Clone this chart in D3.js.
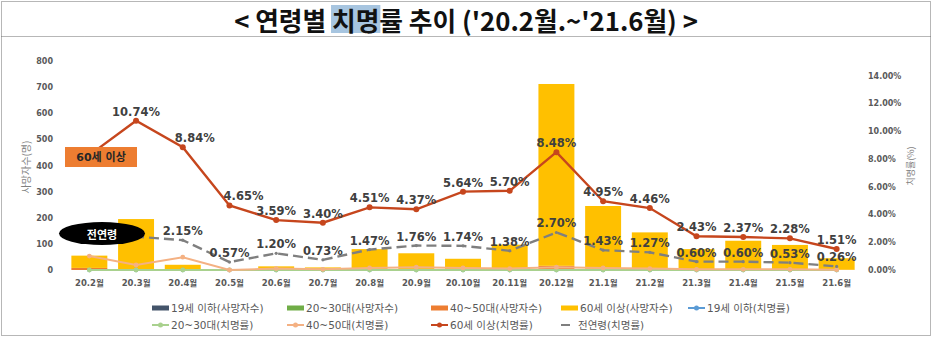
<!DOCTYPE html>
<html>
<head>
<meta charset="utf-8">
<script src="https://cdn.jsdelivr.net/npm/d3@7"></script>
<style>
  body { margin: 0; background: #fff; }
  svg { display: block; }
</style>
</head>
<body>
<svg id="chart" width="934" height="340"></svg>
<script>
// Monthly categories (Feb 2020 – Jun 2021)
const months = ["20.2","20.3","20.4","20.5","20.6","20.7","20.8","20.9","20.10","20.11","20.12","21.1","21.2","21.3","21.4","21.5","21.6"];

// Deaths by age group (people), stacked bars
const deaths19   = [0,0,0,0,0,0,0,0,0,0,0,0,0,0,0,0,0];
const deaths2030 = [0,0,0,0,0,0,0,0,0,0,2,1,0,0,0,0,0];
const deaths4050 = [8,3,1,0,0,0,1,1,1,2,14,5,2,1,1,1,1];
const deaths60   = [47,192,19,2,14,10,79,63,42,95,696,239,142,79,111,95,44];

// Case fatality rate by age group (%)
const rate19   = [0,0,0,0,0,0,0,0,0,0,0,0,0,0,0,0,0];
const rate2030 = [0,0,0,0,0,0,0,0,0,0,0,0,0,0,0,0,0];
const rate4050 = [1.0,0.36,0.92,0,0.1,0.05,0.15,0.2,0.15,0.1,0.2,0.15,0.1,0.05,0.05,0.05,0.02];
const rate60   = [8.27,10.74,8.84,4.65,3.59,3.40,4.51,4.37,5.64,5.70,8.48,4.95,4.46,2.43,2.37,2.28,1.51];
const rateAll  = [2.0,2.4,2.15,0.57,1.20,0.73,1.47,1.76,1.74,1.38,2.70,1.43,1.27,0.60,0.60,0.53,0.26];

// Axis ticks
const deathTicks = [0,100,200,300,400,500,600,700,800];
const rateTicks  = [0,2,4,6,8,10,12,14];

// Series names
const barNames  = ["19세 이하(사망자수)","20~30대(사망자수)","40~50대(사망자수)","60세 이상(사망자수)"];
const lineNames = ["19세 이하(치명률)","20~30대(치명률)","40~50대(치명률)","60세 이상(치명률)","전연령(치명률)"];

const barColors  = ["#44546a","#70ad47","#ed7d31","#ffc000"];
const lineColors = ["#5b9bd5","#a9d18e","#f4b183","#c6461d","#7f7f7f"];

const svg = d3.select("#chart");
const W = 934, H = 340;
const latin = "'DejaVu Sans','Noto Sans CJK KR',sans-serif";
const kr = "'Noto Sans CJK KR','DejaVu Sans',sans-serif";

svg.append("rect").attr("width", W).attr("height", H).attr("fill", "#fff");

// dotted frame and title separator
const frame = svg.append("g").attr("fill", "none").attr("stroke", "#6f6f6f")
  .attr("stroke-width", 1).attr("stroke-dasharray", "1,1");
frame.append("rect").attr("x", 1.5).attr("y", 1.5).attr("width", 929).attr("height", 334);
frame.append("line").attr("x1", 1.5).attr("x2", 930.5).attr("y1", 36.5).attr("y2", 36.5);

// Title with highlighted word
const titleG = svg.append("g");
const hl = titleG.append("rect").attr("fill", "#a7c5e0");
const title = titleG.append("text")
  .attr("x", 466).attr("y", 19)
  .attr("text-anchor", "middle").attr("dominant-baseline", "central")
  .attr("font-family", kr).attr("font-weight", 700).attr("font-size", 25)
  .attr("fill", "#111");
const titleParts = ["< 연령별 ", "치명", "률 추이 ('20.2월.~'21.6월) >"];
titleParts.forEach(t => title.append("tspan").text(t));
{
  const node = title.node();
  const w = node.getComputedTextLength();
  title.attr("font-size", 25 * 464 / w);
  const s = titleParts[0].length, e = s + titleParts[1].length - 1;
  const x0 = node.getStartPositionOfChar(s).x;
  const x1 = node.getEndPositionOfChar(e).x;
  hl.attr("x", x0 - 1).attr("y", 5).attr("width", x1 - x0 + 2).attr("height", 28);
}

// Scales
const x = d3.scaleBand().domain(months).range([66, 860]).paddingInner(0.23).paddingOuter(0.115);
const xc = d => x(d) + x.bandwidth() / 2;
const yL = d3.scaleLinear().domain([0, 800]).range([270, 61]);
const yR = d3.scaleLinear().domain([0, 14]).range([270, 75.5]);

// Axes
const axL = svg.append("g").attr("transform", "translate(56,0)")
  .call(d3.axisLeft(yL).tickValues(deathTicks).tickSize(0).tickPadding(3));
const axR = svg.append("g").attr("transform", "translate(864,0)")
  .call(d3.axisRight(yR).tickValues(rateTicks).tickSize(0).tickPadding(4)
    .tickFormat(d => d.toFixed(2) + "%"));
const axX = svg.append("g").attr("transform", "translate(0,278)")
  .call(d3.axisBottom(x).tickSize(0).tickPadding(2).tickFormat(d => d + "월"));
[axL, axR, axX].forEach(a => {
  a.select(".domain").remove();
  a.selectAll("text").attr("font-family", latin).attr("font-weight", 700)
    .attr("font-size", 8).attr("fill", "#595959");
});
axX.selectAll("text").attr("font-size", 8.5);

// Axis titles
svg.append("text").attr("transform", "translate(30,167) rotate(-90)")
  .attr("text-anchor", "middle").attr("font-family", kr).attr("font-size", 10)
  .attr("fill", "#7f7f7f").text("사망자수(명)");
svg.append("text").attr("transform", "translate(914,166) rotate(-90)")
  .attr("text-anchor", "middle").attr("font-family", kr).attr("font-size", 9)
  .attr("fill", "#7f7f7f").text("치명률(%)");

// Stacked bars
const barSeries = [deaths19, deaths2030, deaths4050, deaths60];
const rows = months.map((m, i) => {
  const r = { month: m };
  barSeries.forEach((s, k) => r["s" + k] = s[i]);
  return r;
});
const stack = d3.stack().keys(["s0","s1","s2","s3"])(rows);
svg.append("g").selectAll("g").data(stack).join("g")
  .attr("fill", (d, k) => barColors[k])
  .selectAll("rect").data(d => d).join("rect")
  .attr("x", d => x(d.data.month))
  .attr("width", x.bandwidth())
  .attr("y", d => yL(d[1]))
  .attr("height", d => yL(d[0]) - yL(d[1]));

// Rate lines
const lineGen = d3.line().x((d, i) => xc(months[i])).y(d => yR(d));
const rateSeries = [rate19, rate2030, rate4050, rate60, rateAll];
const lineStyle = [
  { w: 1.8, dash: null, r: 2.2 },
  { w: 1.8, dash: null, r: 2.4 },
  { w: 2.0, dash: null, r: 2.4 },
  { w: 2.4, dash: null, r: 3.0 },
  { w: 2.4, dash: "10,5", r: 1.6 }
];
rateSeries.forEach((s, k) => {
  const g = svg.append("g");
  g.append("path").datum(s).attr("d", lineGen).attr("fill", "none")
    .attr("stroke", lineColors[k]).attr("stroke-width", lineStyle[k].w)
    .attr("stroke-dasharray", lineStyle[k].dash);
  g.selectAll("circle").data(s).join("circle")
    .attr("cx", (d, i) => xc(months[i])).attr("cy", d => yR(d))
    .attr("r", lineStyle[k].r).attr("fill", lineColors[k]);
});

// Value labels (the first points sit under the callouts); a couple are
// shifted right so they clear the falling line
const labelShift = { "20.4": 12, "20.5": 14 };
function labels(series, from, shift) {
  svg.append("g").selectAll("text").data(series.map((v, i) => ({ v, i })).filter(d => d.i >= from))
    .join("text")
    .attr("x", d => xc(months[d.i]) + ((shift && shift[months[d.i]]) || 0))
    .attr("y", d => yR(d.v) - 5)
    .attr("text-anchor", "middle").attr("font-family", latin).attr("font-weight", 700)
    .attr("font-size", 11.5).attr("fill", "#404040")
    .text(d => d.v.toFixed(2) + "%");
}
labels(rate60, 1, labelShift);
labels(rateAll, 2, null);

// Callouts
const c1 = svg.append("g");
c1.append("rect").attr("x", 65).attr("y", 147).attr("width", 72).attr("height", 20).attr("fill", "#ed7d31");
c1.append("text").attr("x", 101).attr("y", 157).attr("text-anchor", "middle")
  .attr("dominant-baseline", "central").attr("font-family", latin).attr("font-weight", 700)
  .attr("font-size", 11).attr("fill", "#262626").text("60세 이상");
const c2 = svg.append("g");
c2.append("ellipse").attr("cx", 102).attr("cy", 233.5).attr("rx", 43).attr("ry", 11.5).attr("fill", "#000");
c2.append("text").attr("x", 102).attr("y", 233.5).attr("text-anchor", "middle")
  .attr("dominant-baseline", "central").attr("font-family", kr).attr("font-weight", 700)
  .attr("font-size", 11).attr("fill", "#fff").text("전연령");

// Legend
const colX = [152, 287, 431, 561, 688];
const legendItems = [
  ...barNames.map((n, k) => ({ name: n, type: "bar", color: barColors[k] })),
  ...lineNames.map((n, k) => ({ name: n, type: k === 4 ? "dash" : "line", color: lineColors[k] }))
];
const lg = svg.append("g");
legendItems.forEach((it, idx) => {
  const row = idx < 5 ? 0 : 1;
  const col = idx < 5 ? idx : idx - 5;
  const lx = colX[col], ly = row === 0 ? 308 : 325;
  const g = lg.append("g");
  let tx = lx + 19;
  if (it.type === "bar") {
    g.append("rect").attr("x", lx).attr("y", ly - 2.5).attr("width", 17).attr("height", 5).attr("fill", it.color);
  } else if (it.type === "line") {
    g.append("line").attr("x1", lx).attr("x2", lx + 17).attr("y1", ly).attr("y2", ly)
      .attr("stroke", it.color).attr("stroke-width", 2);
    g.append("circle").attr("cx", lx + 8.5).attr("cy", ly).attr("r", 2.5).attr("fill", it.color);
  } else {
    g.append("line").attr("x1", lx).attr("x2", lx + 9).attr("y1", ly).attr("y2", ly)
      .attr("stroke", it.color).attr("stroke-width", 2);
    tx = lx + 17;
  }
  g.append("text").attr("x", tx).attr("y", ly).attr("dominant-baseline", "central")
    .attr("font-family", latin).attr("font-size", 10.5).attr("fill", "#595959").text(it.name);
});
</script>
</body>
</html>
